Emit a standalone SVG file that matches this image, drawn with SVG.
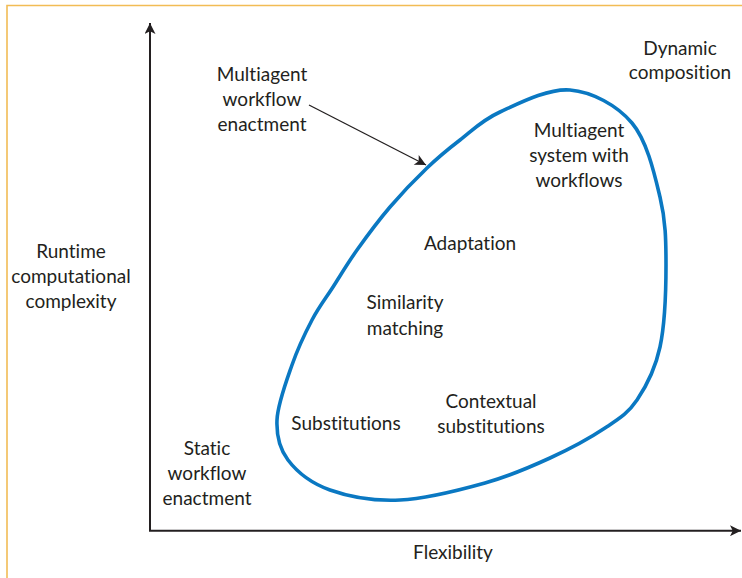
<svg xmlns="http://www.w3.org/2000/svg" width="742" height="578" viewBox="0 0 742 578">
<style>
text{font-family:Lato,"Open Sans","Liberation Sans",sans-serif;font-size:19px;fill:#231f20;text-anchor:middle;font-variant-ligatures:none;font-feature-settings:"liga" 0}
.axis{stroke:#231f20;stroke-width:2;fill:none}
.frame{stroke:#f2bc55;stroke-width:1.6;fill:none}
.blob{stroke:#0a78c2;stroke-width:3.6;fill:none}
.lead{stroke:#231f20;stroke-width:1.3;fill:none}
</style>
<defs>
<marker id="ah2" viewBox="0 0 10 10" refX="10" refY="5" markerWidth="13" markerHeight="11" orient="auto" markerUnits="userSpaceOnUse">
<path d="M0,0 L10,5 L0,10 L2.5,5 Z" fill="#231f20"/>
</marker>
</defs>
<rect width="742" height="578" fill="#fff"/>
<path class="frame" d="M742,5.5 H7 V578"/>
<g id="connectors">
<path class="axis" d="M150,530.7 V23" marker-end="url(#ah2)"/>
<path class="axis" d="M149,530.7 H741" marker-end="url(#ah2)"/>
<path class="lead" d="M309,105 L426,165" marker-end="url(#ah2)"/>
</g>
<g id="region">
<path class="blob" d="M570,90 C592,91.83 617,105.17 632,123 C647,140.83 654.33,173.33 660,197 C665.67,220.67 666,240 666,265 C666,290 664.83,324.5 660,347 C655.17,369.5 646.17,386.5 637,400 C627.83,413.5 619.5,418.33 605,428 C590.5,437.67 570,448.83 550,458 C530,467.17 510,476 485,483 C460,490 425.83,498.83 400,500 C374.17,501.17 348.67,496.67 330,490 C311.33,483.33 296.83,471.67 288,460 C279.17,448.33 276.33,435.83 277,420 C277.67,404.17 286.17,381.67 292,365 C297.83,348.33 305.17,333 312,320 C318.83,307 325.5,298.67 333,287 C340.5,275.33 347.5,263.33 357,250 C366.5,236.67 378.33,220.67 390,207 C401.67,193.33 415.33,179.17 427,168 C438.67,156.83 447.83,149.33 460,140 C472.17,130.67 481.67,120.33 500,112 C518.33,103.67 548,88.17 570,90 Z"/>
</g>
<g id="y-label"><text x="71" y="258">Runtime</text><text x="71" y="283">computational</text><text x="71" y="308">complexity</text></g>
<g id="x-label"><text x="453" y="559">Flexibility</text></g>
<g id="multiagent-workflow-enactment"><text x="262" y="81">Multiagent</text><text x="262" y="106">workflow</text><text x="262" y="131">enactment</text></g>
<g id="dynamic-composition"><text x="680" y="55">Dynamic</text><text x="680" y="79">composition</text></g>
<g id="multiagent-system"><text x="579" y="137">Multiagent</text><text x="579" y="162">system with</text><text x="579" y="187">workflows</text></g>
<g id="adaptation"><text x="470" y="250">Adaptation</text></g>
<g id="similarity-matching"><text x="405" y="309">Similarity</text><text x="405" y="335">matching</text></g>
<g id="substitutions"><text x="346" y="430">Substitutions</text></g>
<g id="contextual-substitutions"><text x="491" y="408">Contextual</text><text x="491" y="433">substitutions</text></g>
<g id="static-workflow-enactment"><text x="207" y="455">Static</text><text x="207" y="480">workflow</text><text x="207" y="505">enactment</text></g>
</svg>
